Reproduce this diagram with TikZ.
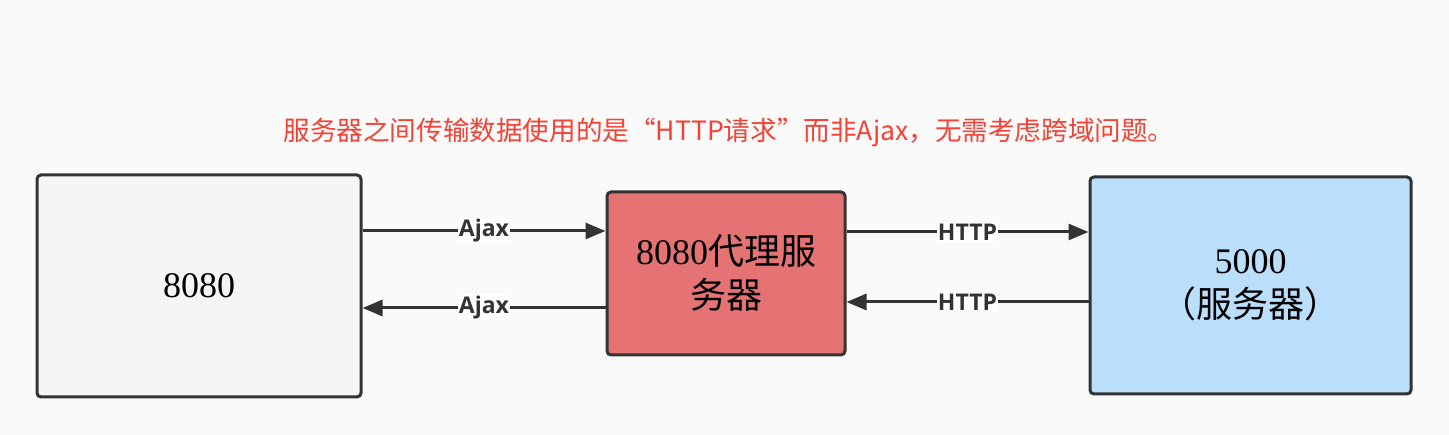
\documentclass[tikz,border=0pt]{standalone}
\usepackage{fontspec}
\usepackage{tikz}
\usetikzlibrary{arrows.meta}
\setmainfont{Liberation Serif}
\newfontfamily\cjk{Noto Sans CJK SC}
\newfontfamily\labelfont{Open Sans}
\definecolor{bgcol}{HTML}{FAFAFA}
\definecolor{edgecol}{HTML}{333333}
\definecolor{greycol}{HTML}{F5F5F5}
\definecolor{redcol}{HTML}{E57373}
\definecolor{bluecol}{HTML}{BBDEFB}
\definecolor{titlecol}{HTML}{F44336}
\tikzset{
  box/.style={draw=edgecol, line width=3pt, rounded corners=4pt,
    inner sep=0pt, align=center, font=\fontsize{36}{44}\selectfont},
  link/.style={draw=edgecol, line width=3pt, -{Triangle[length=20pt,width=16pt]}},
  linklabel/.style={fill=white, inner sep=1pt, text=edgecol,
    font=\labelfont\bfseries\fontsize{23}{26}\selectfont}
}

\begin{document}
\begin{tikzpicture}[x=1pt,y=-1pt]
  \fill[bgcol] (0,0) rectangle (1449,435);
  \useasboundingbox (0,0) rectangle (1449,435);

  \node[text=titlecol, font=\cjk\fontsize{26.6}{30}\selectfont] (title) at (729,132)
    {服务器之间传输数据使用的是“HTTP请求”而非Ajax，无需考虑跨域问题。};

  \node[box, fill=greycol, minimum width=324pt, minimum height=222pt] (client) at (199,286)
    {8080};
  \node[box, fill=redcol, minimum width=238pt, minimum height=163pt] (proxy) at (726,273.5)
    {8080{\cjk 代理服}\\{\cjk 务器}};
  \node[box, fill=bluecol, minimum width=321pt, minimum height=217pt] (server) at (1250.5,285.5)
    {5000\\{\cjk （服务器）}};

  \draw[link] ([yshift=55pt]client.east) -- ([yshift=42.5pt]proxy.west)
    node[linklabel, midway] (ajaxreq) {Ajax};
  \draw[link] ([yshift=-34.5pt]proxy.west) -- ([yshift=-22pt]client.east)
    node[linklabel, midway] (ajaxres) {Ajax};

  \draw[link] ([yshift=41.5pt]proxy.east) -- ([yshift=53.5pt]server.west)
    node[linklabel, midway] (httpreq) {HTTP};
  \draw[link] ([yshift=-16.5pt]server.west) -- ([yshift=-28.5pt]proxy.east)
    node[linklabel, midway] (httpres) {HTTP};

\end{tikzpicture}
\end{document}
